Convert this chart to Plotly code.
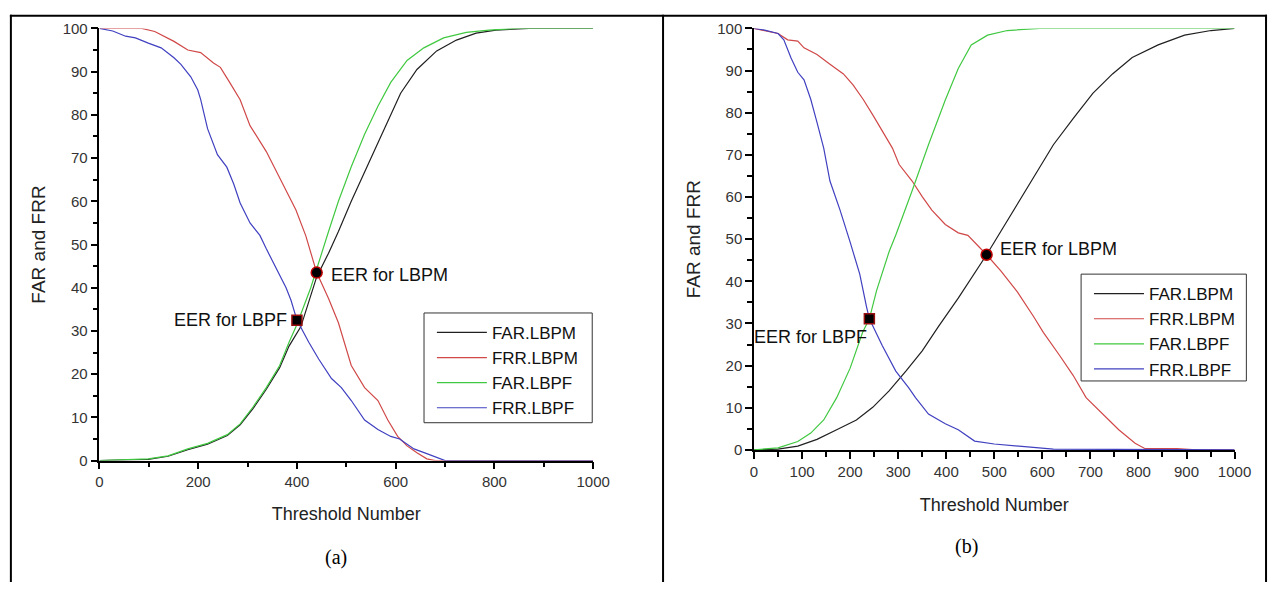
import plotly.graph_objects as go

# ---------------- data: panel (a) ----------------
a_far_lbpm_t = [0, 99, 139, 179, 219, 259, 285, 311, 338, 365, 384, 408, 440, 464, 484, 510, 544, 578, 610, 643, 683, 723, 763, 803, 843, 870, 1000]
a_far_lbpm_v = [0, 0.3, 1.0, 2.5, 3.8, 5.8, 8.3, 12, 16.5, 21.5, 26.5, 31, 42.5, 48, 53, 60, 68.5, 77, 85, 90.5, 94.8, 97.3, 98.9, 99.6, 99.9, 100, 100]

a_frr_lbpm_t = [0, 86, 112, 151, 179, 205, 231, 245, 265, 285, 305, 338, 358, 378, 398, 418, 430, 440, 464, 484, 510, 537, 564, 584, 604, 623, 643, 663, 680, 700, 1000]
a_frr_lbpm_v = [100, 100, 99.3, 97, 95, 94.4, 92, 91, 87.3, 83.5, 77.5, 71.5, 67, 62.5, 58, 52, 47.6, 43.5, 37.5, 31.9, 22, 16.9, 13.9, 9.4, 5.6, 3.4, 1.8, 0.4, 0, 0, 0]

a_far_lbpf_t = [0, 99, 139, 179, 219, 259, 285, 311, 338, 365, 384, 400, 428, 444, 464, 484, 510, 537, 564, 590, 623, 657, 697, 743, 789, 843, 1000]
a_far_lbpf_v = [0, 0.4, 1.1, 2.7, 4.0, 6, 8.5, 12.4, 16.9, 22, 27.4, 31.5, 40, 46, 53, 60, 68, 75.5, 82, 87.5, 92.6, 95.5, 97.8, 99.1, 99.6, 100, 100]

a_frr_lbpf_t = [0, 27, 53, 73, 99, 125, 151, 165, 185, 199, 205, 219, 239, 258, 272, 285, 305, 325, 338, 358, 378, 388, 400, 424, 444, 470, 490, 510, 537, 564, 590, 608, 637, 663, 690, 700, 1000]
a_frr_lbpf_v = [100, 99.4, 98.2, 97.8, 96.6, 95.5, 93.2, 91.7, 88.8, 85.8, 83.6, 76.8, 70.8, 67.9, 64, 59.6, 55, 52.1, 49, 44.5, 40, 37.1, 32.5, 27.4, 23.5, 19, 16.9, 13.9, 9.4, 7.2, 5.6, 5.0, 2.7, 1.6, 0.4, 0, 0]

a_eer_lbpm = (440, 43.5)
a_eer_lbpf = (400, 32.5)

# ---------------- data: panel (b) ----------------
b_far_lbpm_t = [0, 50, 91, 131, 172, 213, 247, 281, 316, 350, 384, 425, 484, 541, 582, 623, 664, 705, 746, 787, 841, 896, 951, 1000]
b_far_lbpm_v = [0, 0.2, 0.9, 2.5, 4.8, 7.1, 10.1, 14, 18.7, 23.5, 29.3, 36, 46.3, 56.9, 64.7, 72.4, 78.6, 84.6, 89.2, 93.1, 96.1, 98.4, 99.5, 100]

b_frr_lbpm_t = [0, 50, 70, 91, 104, 131, 158, 186, 206, 227, 248, 268, 288, 302, 329, 350, 370, 398, 425, 445, 472, 484, 514, 548, 582, 602, 636, 664, 691, 725, 759, 793, 814, 880, 920, 1000]
b_frr_lbpm_v = [100, 98.8, 97.3, 97, 95.4, 93.8, 91.5, 89.2, 86.6, 83.2, 79.3, 75.3, 71.6, 67.7, 63.8, 60.1, 56.9, 53.5, 51.5, 50.9, 47.7, 46.3, 42.4, 37.5, 31.6, 27.9, 22.4, 17.7, 12.4, 8.5, 4.8, 1.6, 0.3, 0.3, 0, 0]

b_far_lbpf_t = [0, 50, 91, 118, 145, 172, 200, 226, 240, 255, 281, 295, 329, 363, 398, 425, 452, 486, 527, 595, 1000]
b_far_lbpf_v = [0, 0.5, 2, 4, 7.1, 12.4, 19.4, 27.9, 31.1, 37.8, 47, 51, 61.5, 72.4, 83, 90.5, 96.1, 98.4, 99.5, 100, 100]

b_frr_lbpf_t = [0, 22, 50, 62, 77, 91, 104, 118, 131, 145, 158, 179, 200, 220, 234, 240, 267, 295, 322, 336, 363, 398, 425, 445, 459, 500, 595, 623, 1000]
b_frr_lbpf_v = [100, 99.6, 98.8, 97.3, 93, 89.6, 87.8, 83.2, 77.7, 71.6, 63.8, 56.9, 49.3, 41.7, 34, 31.1, 24.7, 18.7, 14.7, 12.4, 8.5, 6.2, 4.8, 3.2, 2.1, 1.4, 0.5, 0.2, 0]

b_eer_lbpm = (484, 46.3)
b_eer_lbpf = (240, 31.1)

series_names = ["FAR.LBPM", "FRR.LBPM", "FAR.LBPF", "FRR.LBPF"]
series_colors = ["#202020", "#d04848", "#40c840", "#4040c0"]

W, H = 1285, 590
FONT = "Arial, Liberation Sans, sans-serif"

def px_x(p):
    return p / W

def px_y(p):
    return 1 - p / H

fig = go.Figure()

panel_a = [(a_far_lbpm_t, a_far_lbpm_v), (a_frr_lbpm_t, a_frr_lbpm_v),
           (a_far_lbpf_t, a_far_lbpf_v), (a_frr_lbpf_t, a_frr_lbpf_v)]
panel_b = [(b_far_lbpm_t, b_far_lbpm_v), (b_frr_lbpm_t, b_frr_lbpm_v),
           (b_far_lbpf_t, b_far_lbpf_v), (b_frr_lbpf_t, b_frr_lbpf_v)]

for (t, v), name, col in zip(panel_a, series_names, series_colors):
    fig.add_trace(go.Scatter(x=t, y=v, mode="lines", name=name,
                             line=dict(color=col, width=1.2),
                             xaxis="x", yaxis="y", legend="legend"))
for (t, v), name, col in zip(panel_b, series_names, series_colors):
    fig.add_trace(go.Scatter(x=t, y=v, mode="lines", name=name,
                             line=dict(color=col, width=1.2),
                             xaxis="x2", yaxis="y2", legend="legend2"))

def eer(pt, symbol, xa, ya):
    return go.Scatter(x=[pt[0]], y=[pt[1]], mode="markers", showlegend=False,
                      marker=dict(symbol=symbol, size=11 if symbol == "circle" else 10,
                                  color="black",
                                  line=dict(color="#c00000" if symbol == "circle" else "#9a1010", width=1.5)),
                      xaxis=xa, yaxis=ya)

fig.add_trace(eer(a_eer_lbpm, "circle", "x", "y"))
fig.add_trace(eer(a_eer_lbpf, "square", "x", "y"))
fig.add_trace(eer(b_eer_lbpm, "circle", "x2", "y2"))
fig.add_trace(eer(b_eer_lbpf, "square", "x2", "y2"))

def xaxis(domain, dtick, minor, standoff):
    return dict(domain=domain, range=[0, 1000], tickmode="linear", tick0=0, dtick=dtick,
                showline=True, linecolor="black", linewidth=1.5, mirror=False,
                ticks="outside", ticklen=7, tickwidth=1.5, tickcolor="black",
                minor=dict(dtick=minor, ticks="outside", ticklen=5, tickwidth=1.5, tickcolor="black"),
                showgrid=False, zeroline=False, fixedrange=True,
                tickfont=dict(family=FONT, size=15, color="#333"),
                title=dict(text="Threshold Number", font=dict(family=FONT, size=18, color="#222"), standoff=standoff))

def yaxis(domain, anchor):
    return dict(domain=domain, range=[0, 100], tickmode="linear", tick0=0, dtick=10, anchor=anchor,
                showline=True, linecolor="black", linewidth=1.5, mirror=False,
                ticks="outside", ticklen=7, tickwidth=1.5, tickcolor="black",
                minor=dict(dtick=5, ticks="outside", ticklen=5, tickwidth=1.5, tickcolor="black"),
                showgrid=False, zeroline=False, fixedrange=True,
                tickfont=dict(family=FONT, size=15, color="#333"),
                title=dict(text="FAR and FRR", font=dict(family=FONT, size=19, color="#222"), standoff=12))

leg_font = dict(family=FONT, size=17, color="#111")
layout = dict(
    width=W, height=H, margin=dict(l=0, r=0, t=0, b=0),
    paper_bgcolor="white", plot_bgcolor="white",
    xaxis=dict(xaxis([px_x(97), px_x(599)], 200, 100, 18), anchor="y"),
    yaxis=yaxis([px_y(465), px_y(20)], "x"),
    xaxis2=dict(xaxis([px_x(762.5), px_x(1251)], 100, 50, 20), anchor="y2"),
    yaxis2=yaxis([px_y(454), px_y(20)], "x2"),
    legend=dict(x=px_x(435), y=px_y(315), xanchor="left", yanchor="top",
                bgcolor="rgba(0,0,0,0)", borderwidth=0, itemwidth=50,
                font=leg_font, tracegroupgap=0),
    legend2=dict(x=px_x(1103), y=px_y(275), xanchor="left", yanchor="top",
                 bgcolor="rgba(0,0,0,0)", borderwidth=0, itemwidth=50,
                 font=leg_font, tracegroupgap=0),
    showlegend=True,
)
fig.update_layout(**layout)

# legend frames
box = dict(type="rect", xref="paper", yref="paper", layer="below",
           line=dict(color="#333", width=1), fillcolor="white")
fig.add_shape(**box, x0=px_x(427), x1=px_x(598), y0=px_y(426), y1=px_y(313))
fig.add_shape(**box, x0=px_x(1095), x1=px_x(1263), y0=px_y(383), y1=px_y(273))

# frame lines around the two panels
frame = dict(type="line", xref="paper", yref="paper", line=dict(color="black", width=2))
fig.add_shape(**frame, x0=px_x(6), x1=px_x(1284), y0=px_y(7), y1=px_y(7))
fig.add_shape(**frame, x0=px_x(7), x1=px_x(7), y0=px_y(6), y1=0)
fig.add_shape(**frame, x0=px_x(670), x1=px_x(670), y0=px_y(6), y1=0)
fig.add_shape(**frame, x0=px_x(1283), x1=px_x(1283), y0=px_y(6), y1=0)

lab_font = dict(family=FONT, size=18, color="#111")
fig.add_annotation(x=a_eer_lbpm[0], y=a_eer_lbpm[1], xref="x", yref="y", text="EER for LBPM",
                   showarrow=False, xanchor="left", yanchor="middle", xshift=12, yshift=-2, font=lab_font)
fig.add_annotation(x=a_eer_lbpf[0], y=a_eer_lbpf[1], xref="x", yref="y", text="EER for LBPF",
                   showarrow=False, xanchor="right", yanchor="middle", xshift=-8, font=lab_font)
fig.add_annotation(x=b_eer_lbpm[0], y=b_eer_lbpm[1], xref="x2", yref="y2", text="EER for LBPM",
                   showarrow=False, xanchor="left", yanchor="middle", xshift=11, yshift=6, font=lab_font)
fig.add_annotation(x=b_eer_lbpf[0], y=b_eer_lbpf[1], xref="x2", yref="y2", text="EER for LBPF",
                   showarrow=False, xanchor="right", yanchor="middle", xshift=0, yshift=-18, font=lab_font)

cap_font = dict(family="Times New Roman, Liberation Serif, serif", size=20, color="black")
fig.add_annotation(x=px_x(338), y=px_y(565), xref="paper", yref="paper", text="(a)",
                   showarrow=False, xanchor="center", yanchor="middle", font=cap_font)
fig.add_annotation(x=px_x(978), y=px_y(553), xref="paper", yref="paper", text="(b)",
                   showarrow=False, xanchor="center", yanchor="middle", font=cap_font)

fig.write_html("out.html", config={"displayModeBar": False},
               post_script="document.body.style.margin='0px';document.body.style.overflow='hidden';")
